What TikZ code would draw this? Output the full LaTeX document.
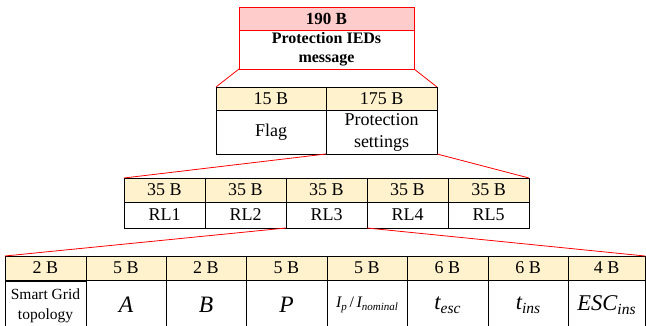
\documentclass[tikz,border=0pt]{standalone}
\usepackage{fontspec}
\setmainfont{Liberation Serif}
\definecolor{hdry}{HTML}{FFF2CC}
\definecolor{hdrp}{HTML}{FFCCCC}
\definecolor{zoomred}{HTML}{FF0000}
\newcommand\fs[1]{\fontsize{#1}{#1}\selectfont}
\newcommand\msym[2]{{\fs{22.5}\itshape #1}\raisebox{-4pt}{\fs{15.5}\itshape #2}}
\begin{document}
\begin{tikzpicture}[x=1pt,y=-1pt,
  cell/.style={draw=black, line width=0.8pt, anchor=north west, inner sep=0pt, outer sep=0pt, align=center, font=\fs{18}},
  hy/.style={cell, fill=hdry, minimum height=24},
  redcell/.style={cell, draw=zoomred},
  zoomline/.style={draw=zoomred, line width=0.8pt}]
\useasboundingbox (0,0) rectangle (646,326);
% top
\node[redcell, fill=hdrp, minimum width=175, minimum height=23, font=\fs{17}\bfseries] (th) at (239,7) {190 B};
\node[redcell, minimum width=175, minimum height=39, font=\fs{16}\bfseries, align=center] (tb) at (239,30) {Protection IEDs\\[3pt]message};
% second
\node[hy, minimum width=110, minimum height=23] (f1h) at (216,87) {15 B};
\node[hy, minimum width=111, minimum height=23] (f2h) at (326,87) {175 B};
\node[cell, minimum width=110, minimum height=44] (f1b) at (216,110) {Flag};
\node[cell, minimum width=111, minimum height=44] (f2b) at (326,110) {Protection\\[4pt]settings};
% third
\node[hy, minimum width=81] (r1h) at (124,178) {35 B};
\node[hy, minimum width=81] (r2h) at (205,178) {35 B};
\node[hy, minimum width=81] (r3h) at (286,178) {35 B};
\node[hy, minimum width=81] (r4h) at (367,178) {35 B};
\node[hy, minimum width=81] (r5h) at (448,178) {35 B};
\node[cell, minimum width=81, minimum height=26] (r1b) at (124,202) {RL1};
\node[cell, minimum width=81, minimum height=26] (r2b) at (205,202) {RL2};
\node[cell, minimum width=81, minimum height=26] (r3b) at (286,202) {RL3};
\node[cell, minimum width=81, minimum height=26] (r4b) at (367,202) {RL4};
\node[cell, minimum width=81, minimum height=26] (r5b) at (448,202) {RL5};
% fourth
\node[hy, minimum width=81] (b1h) at (5,256) {2 B};
\node[hy, minimum width=80] (b2h) at (86,256) {5 B};
\node[hy, minimum width=80] (b3h) at (166,256) {2 B};
\node[hy, minimum width=81] (b4h) at (246,256) {5 B};
\node[hy, minimum width=80] (b5h) at (327,256) {5 B};
\node[hy, minimum width=81] (b6h) at (407,256) {6 B};
\node[hy, minimum width=80] (b7h) at (488,256) {6 B};
\node[hy, minimum width=77] (b8h) at (568,256) {4 B};
\node[cell, minimum width=81, minimum height=50, font=\fs{15.5}] (b1b) at (5,281) {Smart Grid\\[4pt]topology};
\node[cell, minimum width=80, minimum height=50] (b2b) at (86,280) {{\fs{23.5}\itshape A}};
\node[cell, minimum width=80, minimum height=50] (b3b) at (166,280) {{\fs{23.5}\itshape B}};
\node[cell, minimum width=81, minimum height=50] (b4b) at (246,280) {{\fs{23.5}\itshape P}};
\node[cell, minimum width=80, minimum height=50] (b5b) at (327,280) {\raisebox{2pt}{{\fs{16}\itshape I}\raisebox{-3pt}{\fs{11}\itshape p}{\fs{16}\,/\,\itshape I}\raisebox{-3pt}{\fs{11}\itshape nominal}}};
\node[cell, minimum width=81, minimum height=50] (b6b) at (407,280) {\msym{t}{esc}};
\node[cell, minimum width=80, minimum height=50] (b7b) at (488,280) {\msym{t}{ins}};
\node[cell, minimum width=77, minimum height=50] (b8b) at (568,280) {\msym{ESC}{ins}};
% zoom lines
\draw[zoomline] (tb.south west) -- (f1h.north west);
\draw[zoomline] (tb.south east) -- (f2h.north east);
\draw[zoomline] (f2b.south west) -- (r1h.north west);
\draw[zoomline] (f2b.south east) -- (r5h.north east);
\draw[zoomline] (r3b.south west) -- (b1h.north west);
\draw[zoomline] (r3b.south east) -- (b8h.north east);
\end{tikzpicture}
\end{document}
